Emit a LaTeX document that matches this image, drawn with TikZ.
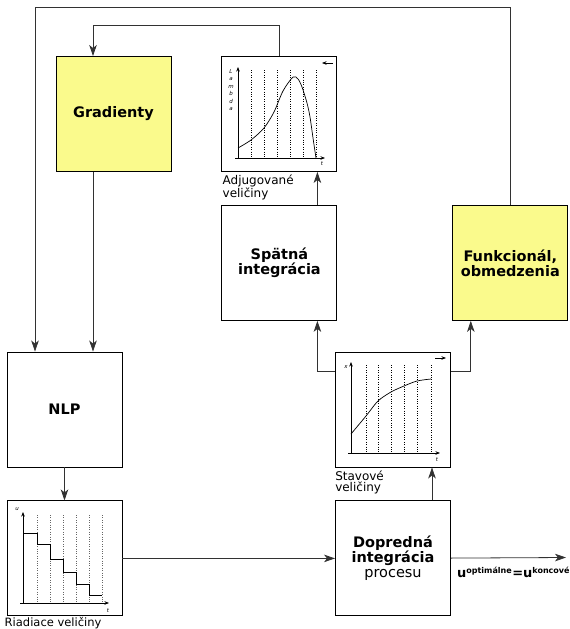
\documentclass[tikz,border=0pt]{standalone}
\usepackage{fontspec}
\setmainfont{DejaVu Sans}
\usetikzlibrary{arrows.meta,positioning}
\definecolor{figYellow}{RGB}{250,250,140}
\definecolor{lineGray}{RGB}{50,50,50}
\newcommand{\boxfont}{\fontsize{14.5}{15}\selectfont\bfseries}
\newcommand{\capfont}{\fontsize{12}{11.5}\selectfont}
\newcommand{\tinyfont}{\fontsize{5.5}{7.5}\selectfont\itshape}
\tikzset{
  box/.style={draw=black, line width=0.9pt, minimum width=115pt, minimum height=115pt,
              align=center, font=\boxfont, inner sep=2pt},
  yellowbox/.style={box, fill=figYellow},
  plotbox/.style={box},
  arrow/.style={-{Stealth[length=11pt,width=7.5pt,inset=3pt]}, line width=0.8pt, draw=lineGray},
  axisarrow/.style={-{Stealth[length=4.5pt,width=3.5pt]}, line width=0.6pt},
  gridline/.style={line width=0.6pt, dash pattern=on 0.6pt off 1.8pt},
  curve/.style={line width=0.7pt},
  caption/.style={font=\capfont, align=left, inner sep=0pt},
  tinylbl/.style={font=\tinyfont, inner sep=0pt, align=center}
}
\begin{document}
\begin{tikzpicture}[x=1pt, y=-1pt]
\useasboundingbox (0,0) rectangle (570,629);
% bloky
\node[yellowbox] (grad) at (113.5,114) {Gradienty};
\node[plotbox, right=50pt of grad] (adj) {};
\node[box, below=33pt of adj] (spat) {Sp\"atn\'a\\integr\'acia};
\node[yellowbox, right=115pt of spat] (funk) {Funkcion\'al,\\obmedzenia};
\node[box] (nlp) at (64.5,409.5) {NLP};
\node[plotbox] (stav) at (393,409.5) {};
\node[plotbox, below=33pt of nlp] (riad) {};
\node[box, below=33pt of stav] (dopr) {Dopredn\'a\\integr\'acia\\\mdseries procesu};

% adjungovane veliciny
\draw[gridline] (251,70) -- (251,158) (264,70) -- (264,158) (277,70) -- (277,158)
  (290,70) -- (290,158) (303,70) -- (303,158) (316,70) -- (316,158);
\draw[axisarrow] (238,158) -- (238,67);
\draw[axisarrow] (235,158) -- (325,158);
\draw[curve] plot[smooth] coordinates {(238,148) (251,140) (264,128) (274,112) (283,91)
  (293,77) (298,79) (302,87) (307,103) (310,117) (313,138) (316,158)};
\draw[axisarrow] (333,63) -- (322,63);
\node[tinylbl] at (231,90) {L\\a\\m\\b\\d\\a};
\node[tinylbl] at (322,164) {t};
\node[caption, anchor=north west] (adjcap) at ([xshift=1pt,yshift=-3pt]adj.south west) {Adjugovan\'e\\veli\v{c}iny};

% stavove veliciny
\draw[gridline] (366,365) -- (366,453) (378,365) -- (378,453) (391,365) -- (391,453)
  (404,365) -- (404,453) (417,365) -- (417,453) (431,365) -- (431,453);
\draw[axisarrow] (351,453) -- (351,362);
\draw[axisarrow] (348,453) -- (440,453);
\draw[curve] plot[smooth] coordinates {(351,434) (366,416) (378,401) (391,392) (404,386)
  (417,381) (431,379)};
\draw[axisarrow] (435,358) -- (446,358);
\node[tinylbl] at (346,367) {x};
\node[tinylbl] at (437,460) {t};
\node[caption, anchor=north west] (stavcap) at ([xshift=0pt,yshift=-3pt]stav.south west) {Stavov\'e\\veli\v{c}iny};

% riadiace veliciny
\draw[gridline, draw=black!60] (37,515) -- (37,603) (50,515) -- (50,603) (63,515) -- (63,603)
  (76,515) -- (76,603) (89,515) -- (89,603) (102,515) -- (102,603);
\draw[axisarrow] (23,603) -- (23,512);
\draw[axisarrow] (20,603) -- (109,603);
\draw[curve] (23,533) -| (37,544) -| (50,559) -| (63,572) -| (76,584) -| (89,595) -- (102,595);
\node[tinylbl] at (17,509) {u};
\node[tinylbl] at (108,611) {t};
\node[caption, anchor=north west, font=\fontsize{11.5}{11.5}\selectfont] (riadcap)
  at ([xshift=-2pt,yshift=-0.5pt]riad.south west) {Riadiace veli\v{c}iny};

% spojenia
\draw[arrow] ([xshift=-20.5pt]grad.south) -- ([xshift=28.5pt]nlp.north);
\draw[arrow] (adj.north) -- ++(0,-31) -| ([xshift=-20.5pt]grad.north);
\draw[arrow] (funk.north) -- ++(0,-198) -| ([xshift=-29.5pt]nlp.north);
\draw[arrow] (nlp) -- (riad);
\draw[arrow] (riad) -- (dopr);
\draw[arrow] ([xshift=39pt]dopr.north) -- ([xshift=39pt]stav.south);
\draw[arrow] ([yshift=-20pt]stav.north west) -| ([xshift=38pt]spat.south);
\draw[arrow] ([yshift=-20pt]stav.north east) -| ([xshift=-39.5pt]funk.south);
\draw[arrow] ([xshift=38pt]spat.north) -- ([xshift=38pt]adj.south);
\coordinate (out) at (566,557.5);
\draw[arrow] (dopr) -- (out);
\node[anchor=base west, inner sep=0pt, font=\fontsize{13}{13}\selectfont\bfseries] (uopt)
  at ([xshift=6pt,yshift=-19.5pt]dopr.east)
  {u\textsuperscript{\fontsize{8}{8}\selectfont optim\'alne}=u\textsuperscript{\fontsize{8}{8}\selectfont koncov\'e}};
\end{tikzpicture}
\end{document}
